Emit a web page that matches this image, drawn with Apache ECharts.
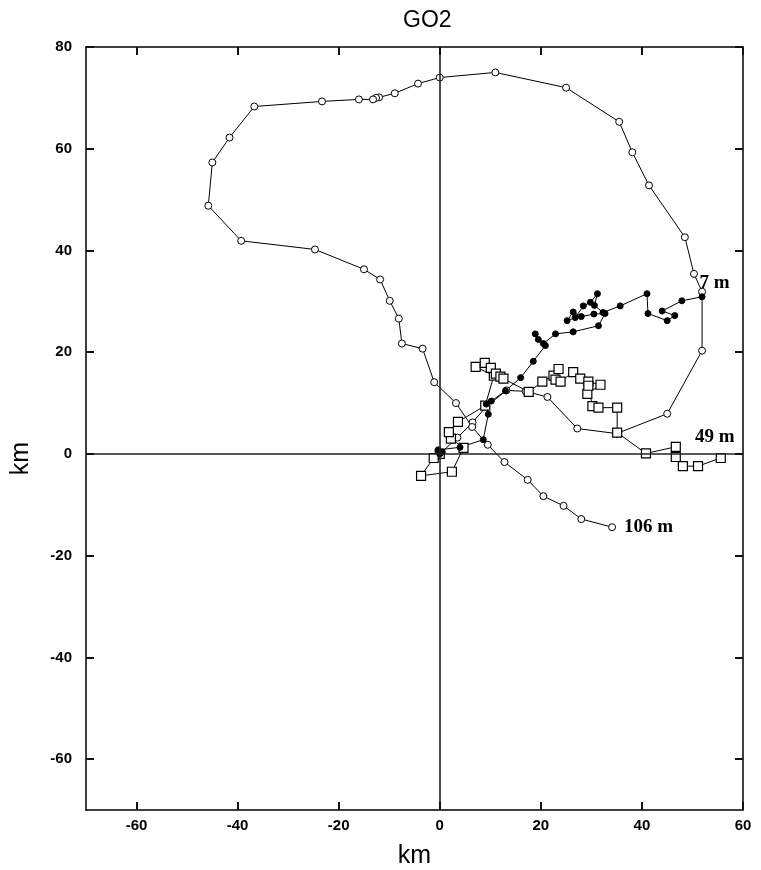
<!DOCTYPE html>
<html><head><meta charset="utf-8">
<script src="https://cdn.jsdelivr.net/npm/echarts@6/dist/echarts.min.js"></script>
<style>html,body{margin:0;padding:0;background:#fff}#c{width:761px;height:870px}</style>
</head><body><div id="c"></div>
<script>
const xRange = [-70, 60];
const yRange = [-70, 80];
const tickStep = 20;

const depth106 = [[0,0],[3.5,3.2],[6.5,6.2],[9.2,9.3],[13.2,12.5],[17,12.3],[21.3,11.2],[27.2,5],[35,4],[45,7.9],[51.9,20.3],[51.9,31.9],[50.3,35.4],[48.5,42.6],[41.4,52.8],[38.1,59.3],[35.5,65.3],[25,72],[11,75],[0,74],[-4.3,72.8],[-8.9,70.9],[-12,70.1],[-12.6,70.0],[-13.2,69.7],[-16,69.7],[-23.3,69.3],[-36.7,68.3],[-41.6,62.2],[-45,57.3],[-45.8,48.8],[-39.3,41.9],[-24.7,40.2],[-15,36.3],[-11.8,34.3],[-9.9,30.1],[-8.1,26.6],[-7.5,21.7],[-3.4,20.7],[-1.1,14.1],[3.2,10],[6.4,5.3],[9.5,1.8],[12.8,-1.6],[17.4,-5.1],[20.5,-8.3],[24.5,-10.2],[28,-12.8],[34.1,-14.4]];

const depth49 = [[0,0],[-1.2,-0.8],[-3.7,-4.3],[2.4,-3.5],[4.7,1.2],[2.2,3],[1.8,4.3],[3.6,6.3],[9,9.5],[10.7,15.4],[7.1,17.1],[8.9,17.9],[10.1,16.9],[11.1,15.8],[12,15.2],[12.6,14.8],[17.6,12.2],[20.3,14.2],[22.5,15.4],[23.5,16.7],[22.9,14.6],[23.9,14.2],[26.4,16.1],[27.8,14.8],[29.4,14.2],[31.8,13.6],[29.2,11.8],[29.4,13.4],[30.2,9.4],[31.4,9.1],[35.1,9.1],[35.1,4.2],[40.8,0.1],[46.7,1.4],[46.7,-0.6],[48.1,-2.4],[51.1,-2.4],[55.6,-0.8]];

const depth7 = [[0,0],[0.5,0.4],[-0.3,0.8],[4,1.3],[8.6,2.8],[9.6,7.8],[9.2,9.8],[10.2,10.4],[13,12.4],[16,15],[18.5,18.2],[20.9,21.3],[19.5,22.5],[18.9,23.6],[20.5,21.7],[22.9,23.6],[26.4,24],[31.4,25.2],[32.7,27.6],[30.5,27.5],[28,27],[26.4,27.9],[25.2,26.2],[26.8,26.8],[28.4,29.1],[29.8,29.8],[31.2,31.5],[30.6,29.2],[32.3,27.8],[35.7,29.1],[41,31.5],[41.2,27.6],[45,26.2],[46.5,27.2],[44,28.1],[47.9,30.1],[51.9,30.9]];

const seriesNames = ['106 m', '49 m', '7 m'];

const labelFont = {fontFamily: 'Liberation Serif', fontWeight: 'bold', fontSize: 19, color: '#000'};

function withEndLabel(data, text, opts) {
  return data.map((p, i) => i === data.length - 1
    ? {value: p, label: Object.assign({show: true, formatter: text}, labelFont, opts)}
    : p);
}

function tickFont() { return {fontFamily: 'Liberation Sans', fontWeight: 'bold', fontSize: 15, color: '#000'}; }
function titleFont() { return {fontFamily: 'Liberation Sans Narrow, Liberation Sans', fontWeight: 'normal', fontSize: 25, color: '#000'}; }
function ghostLabels() { return {show: true, color: 'rgba(0,0,0,0)', fontSize: 1, margin: 0, showMinLabel: false}; }

function makeAxis(range, position, labelOpt, extra) {
  return Object.assign({
    type: 'value', min: range[0], max: range[1], position: position,
    minInterval: tickStep, maxInterval: tickStep, splitNumber: 7,
    axisLine: {show: true, onZero: false, lineStyle: {color: '#000', width: 1.5}},
    axisTick: {show: true, inside: true, length: 8, lineStyle: {color: '#111', width: 2}},
    axisLabel: labelOpt,
    splitLine: {show: false},
    z: 5
  }, extra || {});
}

const chart = echarts.init(document.getElementById('c'), null, {renderer: 'canvas'});
chart.setOption({
  animation: false,
  title: {text: 'GO2', left: 398, top: 4, textStyle: {fontFamily: 'Liberation Sans Narrow, Liberation Sans', fontWeight: 'normal', fontSize: 23, color: '#000'}},
  grid: {left: 86, right: 18, top: 47, bottom: 60, containLabel: false, outerBoundsMode: 'none'},
  xAxis: [
    makeAxis(xRange, 'bottom', Object.assign({showMinLabel: false, margin: 8}, tickFont()),
      {name: 'km', nameLocation: 'middle', nameGap: 34, nameTextStyle: titleFont()}),
    makeAxis(xRange, 'top', ghostLabels())
  ],
  yAxis: [
    makeAxis(yRange, 'left', Object.assign({showMinLabel: false, margin: 14}, tickFont()),
      {name: 'km', nameLocation: 'middle', nameGap: 52, nameRotate: 90,
       nameTextStyle: Object.assign({padding: [0, 0, 0, -60]}, titleFont())}),
    makeAxis(yRange, 'right', ghostLabels())
  ],
  series: [
    {name: seriesNames[0], type: 'line', xAxisIndex: 0, yAxisIndex: 0,
     data: withEndLabel(depth106, seriesNames[0], {position: 'right', distance: 8}),
     symbol: 'circle', symbolSize: 7,
     itemStyle: {color: '#fff', borderColor: '#000', borderWidth: 1},
     lineStyle: {color: '#000', width: 1},
     markLine: {silent: true, symbol: ['none', 'none'], label: {show: false},
       lineStyle: {color: '#222', width: 1.6, type: 'solid'},
       data: [{xAxis: 0}, {yAxis: 0}]}},
    {name: seriesNames[1], type: 'line', xAxisIndex: 0, yAxisIndex: 0,
     data: withEndLabel(depth49, seriesNames[1], {position: 'top', distance: 6, offset: [-6, 0]}),
     symbol: 'rect', symbolSize: 9,
     itemStyle: {color: '#fff', borderColor: '#000', borderWidth: 1.2},
     lineStyle: {color: '#000', width: 1}},
    {name: seriesNames[2], type: 'line', xAxisIndex: 0, yAxisIndex: 0,
     data: withEndLabel(depth7, seriesNames[2], {position: 'right', distance: 0, offset: [-6, -14]}),
     symbol: 'circle', symbolSize: 6,
     itemStyle: {color: '#000', borderColor: '#000', borderWidth: 1},
     lineStyle: {color: '#000', width: 1}}
  ]
});
</script></body></html>
